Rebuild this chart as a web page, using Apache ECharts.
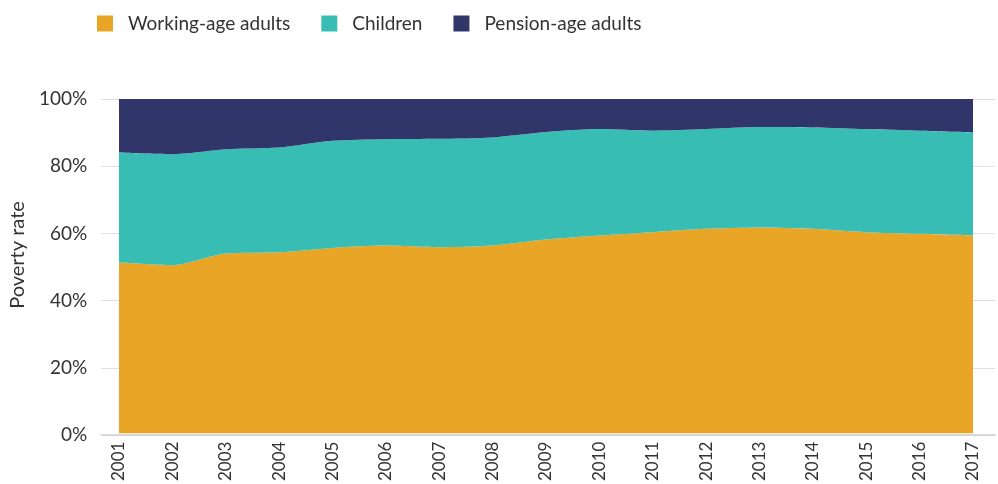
<!DOCTYPE html>
<html>
<head>
<meta charset="utf-8">
<script src="https://cdn.jsdelivr.net/npm/echarts@6/dist/echarts.min.js"></script>
<style>html,body{margin:0;padding:0;background:#fff}#c{width:998px;height:484px}</style>
</head>
<body>
<div id="c"></div>
<script>
const years = ['2001','2002','2003','2004','2005','2006','2007','2008','2009','2010','2011','2012','2013','2014','2015','2016','2017'];
const workingAge = [51.1,50.3,53.8,54.2,55.5,56.2,55.7,56.2,58.0,59.2,60.2,61.2,61.6,61.2,60.2,59.7,59.2];
const children = [32.9,33.2,31.2,31.3,32.0,31.8,32.4,32.3,32.1,31.8,30.3,29.8,30.0,30.3,30.8,30.8,30.8];
const pensionAge = [16.0,16.5,15.0,14.5,12.5,12.0,11.9,11.5,9.9,9.0,9.5,9.0,8.4,8.5,9.0,9.5,10.0];
const yTicks = [0,20,40,60,80,100];
const seriesNames = ['Working-age adults','Children','Pension-age adults'];
const colors = ['#E8A526','#38BDB4','#31366A'];

const font = 'Lato, "Open Sans", sans-serif';
const chart = echarts.init(document.getElementById('c'));
const mk = (name, vals, color) => ({
  name, type: 'line', stack: 'total', smooth: 0.25, showSymbol: false,
  xAxisIndex: 1, yAxisIndex: 1, z: 3,
  lineStyle: { width: 0 }, areaStyle: { color: color, opacity: 1 },
  itemStyle: { color: color },
  data: vals
});
chart.setOption({
  animation: false,
  color: colors,
  legend: {
    left: 92, top: 9, itemWidth: 16, itemHeight: 16, itemGap: 31,
    icon: 'rect',
    textStyle: { fontFamily: font, fontSize: 19, color: '#333', padding: [0,0,0,10] },
    data: seriesNames
  },
  grid: [
    { left: 96, right: 3, top: 99, bottom: 49 },
    { left: 119, right: 25, top: 99, bottom: 49 }
  ],
  xAxis: [
    {
      gridIndex: 0, type: 'value', min: 0, max: 1,
      axisLine: { show: true, lineStyle: { color: '#d0d0d0', width: 1.5 } },
      axisTick: { show: false }, splitLine: { show: false }, axisLabel: { show: false }
    },
    {
      gridIndex: 1, type: 'category', boundaryGap: false, data: years,
      axisLine: { show: false }, axisTick: { show: false }, splitLine: { show: false },
      axisLabel: { rotate: 90, margin: 8, fontFamily: font, fontSize: 17, color: '#333', interval: 0 }
    }
  ],
  yAxis: [
    {
      gridIndex: 0, type: 'value', min: 0, max: 100, interval: 20,
      name: 'Poverty rate', nameLocation: 'middle', nameGap: 72,
      nameTextStyle: { fontFamily: font, fontSize: 20, color: '#333', padding: [0,0,0,24] },
      axisLine: { show: false }, axisTick: { show: false },
      splitLine: { lineStyle: { color: '#e0e0e0', width: 1 } },
      axisLabel: { margin: 14, fontFamily: font, fontSize: 19, color: '#333', formatter: v => yTicks.includes(v) ? v + '%' : '' }
    },
    {
      gridIndex: 1, type: 'value', min: 0, max: 100, show: false
    }
  ],
  series: [
    mk(seriesNames[0], workingAge, colors[0]),
    mk(seriesNames[1], children, colors[1]),
    mk(seriesNames[2], pensionAge, colors[2])
  ]
});
</script>
</body>
</html>
